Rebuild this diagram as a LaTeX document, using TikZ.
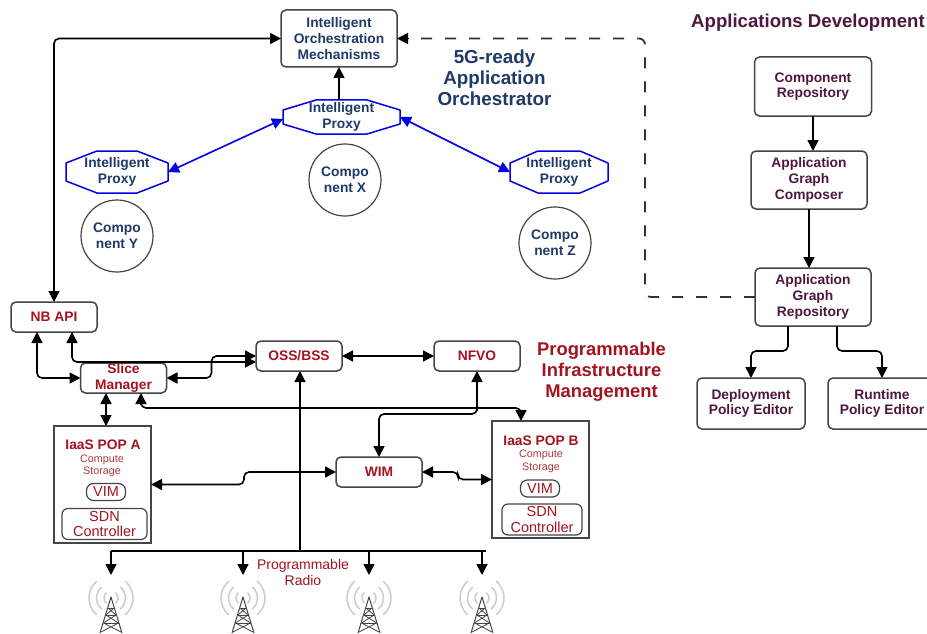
\documentclass[tikz,border=0pt]{standalone}
\usepackage{fontspec}
\setmainfont{Liberation Sans}
\usetikzlibrary{arrows.meta,calc}
\definecolor{navy}{HTML}{1F3A68}
\definecolor{dred}{HTML}{A3141E}
\definecolor{maroon}{HTML}{4F173F}
\definecolor{edge}{HTML}{454545}
\newcommand{\octa}[3]{\draw[blue!90!black,line width=1.5pt,line join=round]
  ($(#1.west)+(0,-#3)$) -- ($(#1.north west)+(#2,0)$) -- ($(#1.north east)+(-#2,0)$) -- ($(#1.east)+(0,-#3)$)
  -- ($(#1.east)+(0,#3)$) -- ($(#1.south east)+(-#2,0)$) -- ($(#1.south west)+(#2,0)$) -- ($(#1.west)+(0,#3)$) -- cycle;}
\tikzset{
  x=1pt,y=-1pt,
  ahead/.tip={Triangle[length=11pt,width=11pt]},
  basetext/.style={align=center,inner sep=0pt,outer sep=0pt},
  bf/.style={font=\bfseries\fontsize{13.8}{15.7}\selectfont},
  rbox/.style={basetext,draw=edge,line width=1.5pt,rounded corners=5pt,bf},
  navybox/.style={rbox,text=navy},
  redbox/.style={rbox,text=dred,minimum width=86pt,minimum height=30pt},
  marbox/.style={rbox,text=maroon},
  comp/.style={basetext,circle,draw=edge,line width=1.2pt,minimum size=72pt,text=navy,bf},
  proxy/.style={basetext,text=navy,bf},
  pop/.style={basetext,draw=edge,line width=1.3pt,minimum width=97pt,minimum height=117pt},
  poptitle/.style={basetext,text=dred,font=\bfseries\fontsize{13.8}{15}\selectfont},
  popsub/.style={basetext,text=dred!85,font=\fontsize{10.8}{12.5}\selectfont},
  vimbox/.style={basetext,draw=edge,line width=1.2pt,rounded corners=7pt,text=dred,font=\fontsize{14.5}{16}\selectfont,minimum width=39pt,minimum height=17pt},
  sdnbox/.style={basetext,draw=edge,line width=1.2pt,rounded corners=6pt,text=dred,font=\fontsize{14.5}{15.5}\selectfont,minimum height=31pt},
  head/.style={basetext},
  conn/.style={line width=1.6pt,black,rounded corners=5pt,-{ahead}},
  dbl/.style={line width=1.6pt,black,rounded corners=5pt,{ahead}-{ahead}},
  bluedbl/.style={line width=1.6pt,blue!90!black,{ahead}-{ahead}},
  plainl/.style={line width=1.6pt,black},
  dashl/.style={line width=1.8pt,black!80,rounded corners=6pt,dash pattern=on 11pt off 13pt},
  pics/radiotower/.style={code={
    \foreach \r/\a in {7/50,14.5/50,22/50}{
      \draw[black!20,line width=1.5pt] (-\a:\r) arc[start angle=-\a,end angle=\a,radius=\r];
      \draw[black!20,line width=1.5pt] (180-\a:\r) arc[start angle=180-\a,end angle=180+\a,radius=\r];
    }
    \draw[edge,line width=1pt,line join=round] (-11,35) -- (0,-1) -- (11,35);
    \draw[edge,line width=.9pt] (-3,10) -- (3,10) (-5,17) -- (5,17) (-7.5,25) -- (7.5,25);
    \draw[edge,line width=.8pt] (-3,10) -- (5,17) -- (-7.5,25) -- (10,34) (3,10) -- (-5,17) -- (7.5,25) -- (-10,34);
  }}
}
\begin{document}
\begin{tikzpicture}
\useasboundingbox (0,0) rectangle (927,634);
\fill[white] (0,0) rectangle (927,634);

% top: orchestrator
\node[navybox,minimum width=116pt,minimum height=57pt] (orch) at (339,38.5) {Intelligent\\Orchestration\\Mechanisms};
\node[proxy,minimum width=117pt,minimum height=34pt] (pt) at (341.5,117) {Intelligent\\Proxy};
\node[proxy,minimum width=102pt,minimum height=42pt] (pl) at (117,172) {Intelligent\\Proxy};
\node[proxy,minimum width=98pt,minimum height=42pt] (pr) at (559,172) {Intelligent\\Proxy};
\octa{pt}{33}{7}
\octa{pl}{31}{9}
\octa{pr}{28}{9}
\node[comp] (cx) at (345,180) {Compo\\nent X};
\node[comp] (cy) at (117,236) {Compo\\nent Y};
\node[comp] (cz) at (555,243) {Compo\\nent Z};
\node[head,text=navy,font=\bfseries\fontsize{18.8}{21}\selectfont] (t5g) at (494.5,78) {5G-ready\\Application\\Orchestrator};

% infrastructure
\node[redbox] (nb) at (54,317) {NB API};
\node[redbox,font=\bfseries\fontsize{13.8}{15.5}\selectfont] (slice) at (123.5,378) {Slice\\Manager};
\node[redbox] (oss) at (299,356) {OSS/BSS};
\node[redbox] (nfvo) at (477,356) {NFVO};
\node[redbox] (wim) at (379,472) {WIM};
\node[head,text=dred,font=\bfseries\fontsize{18.4}{21}\selectfont] (tprog) at (601.5,371.5) {Programmable\\Infrastructure\\Management};

% POP A
\node[pop] (popa) at (102.5,484.5) {};
\node[poptitle] (popat) at (103,445) {IaaS POP A};
\node[popsub] (popas) at (102,466) {Compute\\Storage};
\node[vimbox] (vima) at (106,492) {VIM};
\node[sdnbox,minimum width=85pt] (sdna) at (104.5,524) {SDN\\Controller};
% POP B
\node[pop] (popb) at (540.5,479.5) {};
\node[poptitle] (popbt) at (541,441) {IaaS POP B};
\node[popsub] (popbs) at (541,461.5) {Compute\\Storage};
\node[vimbox] (vimb) at (540,488.5) {VIM};
\node[sdnbox,minimum width=80pt] (sdnb) at (542,519.5) {SDN\\Controller};

\node[head,text=dred,font=\fontsize{14}{16}\selectfont] (radio) at (303,572) {Programmable\\Radio};

% bus and antennas
\coordinate (busl) at (111,551);
\coordinate (busr) at (486,551);
\coordinate (t1) at (111,575);
\coordinate (t2) at (243,575);
\coordinate (t3) at (369,575);
\coordinate (t4) at (482,575);
\pic at (111,598) {radiotower};
\pic at (243,598) {radiotower};
\pic at (369,598) {radiotower};
\pic at (482,598) {radiotower};

% applications development
\node[head,text=maroon,font=\bfseries\fontsize{18.6}{20}\selectfont] (tapp) at (808,23) {Applications Development};
\node[marbox,minimum width=117pt,minimum height=59pt] (repo) at (813,86.5) {Component\\Repository};
\node[marbox,minimum width=116pt,minimum height=58pt] (comp) at (809,180) {Application\\Graph\\Composer};
\node[marbox,minimum width=116pt,minimum height=58pt] (agr) at (813,297) {Application\\Graph\\Repository};
\node[marbox,minimum width=108pt,minimum height=51pt] (dep) at (751,403.5) {Deployment\\Policy Editor};
\node[marbox,minimum width=108pt,minimum height=51pt] (run) at (882,403.5) {Runtime\\Policy Editor};

% connectors
\draw[dbl] (orch.west) -| (nb.north);
\draw[conn] (pt.north -| orch) -- (orch.south);
\draw[bluedbl] (pl.east) -- ($(pt.west)+(0,2)$);
\draw[bluedbl] (pt.east) -- (pr.west);
\draw[dbl] ([xshift=-17pt]nb.south) |- (slice.west);
\draw[dbl] ([xshift=18pt]nb.south) |- ([yshift=-6pt]oss.west);
\draw[dbl] (slice.east) -- ++(45,0) |- (oss.west);
\draw[dbl] ([xshift=-17.5pt]slice.south) -- ([xshift=3.5pt]popa.north);
\draw[dbl] ([xshift=17.5pt]slice.south) |- ++(0,15) -| ([xshift=-19.5pt]popb.north);
\draw[dbl] (oss.east) -- (nfvo.west);
\draw[dbl] (nfvo.south) |- ++(0,43) -| (wim.north);
\draw[dbl] (popa.east) -- ++(93,0) |- (wim.west);
\draw[dbl] (wim.east) -- ++(36,0) |- (popb.west);
\draw[plainl] (busl) -- (busr);
\draw[conn] ([xshift=1pt]oss |- busl) -- ([xshift=1pt]oss.south);
\draw[conn] (busl) -- (t1);
\draw[conn] (t2 |- busl) -- (t2);
\draw[conn] (t3 |- busl) -- (t3);
\draw[conn] (t4 |- busl) -- (t4);
\draw[conn] (repo.south) -- (repo.south |- comp.north);
\draw[conn] (comp.south) -- (comp.south |- agr.north);
\draw[conn] ([xshift=-25pt]agr.south) -- ++(0,25) -| (dep.north);
\draw[conn] ([xshift=24pt]agr.south) -- ++(0,25) -| (run.north);
\draw[dashl] (agr.west) -| (645,38.5) -- ($(orch.east)+(9,0)$);
\draw[conn] ($(orch.east)+(12,0)$) -- (orch.east);
\end{tikzpicture}
\end{document}
